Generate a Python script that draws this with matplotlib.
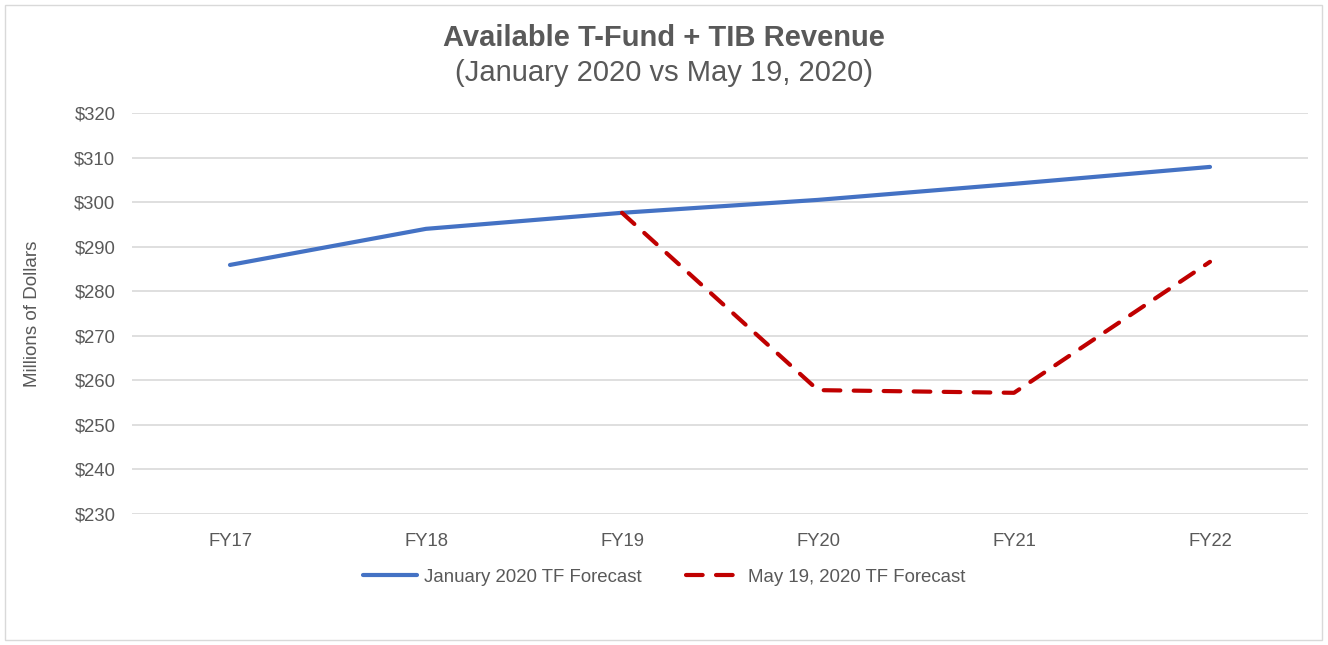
import matplotlib.pyplot as plt
from matplotlib.patches import Rectangle

plt.rcParams['font.family'] = ['Liberation Sans', 'DejaVu Sans']

years = ["FY17", "FY18", "FY19", "FY20", "FY21", "FY22"]
jan_forecast = [285.9, 294.0, 297.6, 300.5, 304.1, 307.9]
may_years = ["FY19", "FY20", "FY21", "FY22"]
may_forecast = [297.6, 257.8, 257.2, 286.6]
yticks = [230, 240, 250, 260, 270, 280, 290, 300, 310, 320]

gray = "#595959"

fig = plt.figure(figsize=(13.28, 6.45), dpi=100)
ax = fig.add_axes([132 / 1328, 1 - 514 / 645, 1176 / 1328, 401 / 645])

x_all = list(range(len(years)))
x_may = [years.index(y) for y in may_years]

ax.plot(x_all, jan_forecast, color="#4472C4", lw=3, solid_capstyle="round",
        label="January 2020 TF Forecast", zorder=3)
ax.plot(x_may, may_forecast, color="#C00000", lw=3, dashes=(4, 3.2),
        dash_capstyle="round", label="May 19, 2020 TF Forecast", zorder=4)

ax.set_xlim(-0.5, len(years) - 0.5)
ax.set_ylim(230, 320)
ax.set_yticks(yticks)
ax.set_yticklabels([f"${v}" for v in yticks])
ax.set_xticks(x_all)
ax.set_xticklabels(years)
ax.grid(axis="y", color="#D9D9D9", lw=1.2)
ax.set_axisbelow(True)
for s in ax.spines.values():
    s.set_visible(False)
ax.tick_params(length=0, colors=gray, labelsize=13.3)
ax.tick_params(axis="y", pad=12)
ax.tick_params(axis="x", pad=14)

fig.text(33 / 1328, 1 - 314 / 645, "Millions of Dollars", rotation=90,
         ha="center", va="center", fontsize=13.5, color=gray)

fig.text(0.5, 1 - 38 / 645, "Available T-Fund + TIB Revenue", ha="center",
         va="center", fontsize=21, fontweight="bold", color=gray)
fig.text(0.5, 1 - 73 / 645, "(January 2020 vs May 19, 2020)", ha="center",
         va="center", fontsize=21, color=gray)

leg = fig.legend(loc="center", bbox_to_anchor=(664 / 1328, 1 - 577 / 645),
                 ncol=2, frameon=False, fontsize=13.4, handlelength=2.9,
                 handletextpad=0.4, columnspacing=2.4)
for t in leg.get_texts():
    t.set_color(gray)

fig.patches.append(Rectangle((5 / 1328, 5 / 645), 1317 / 1328, 635 / 645,
                             transform=fig.transFigure, fill=False,
                             edgecolor="#D9D9D9", lw=1))

fig.savefig("out.png", dpi=100)
